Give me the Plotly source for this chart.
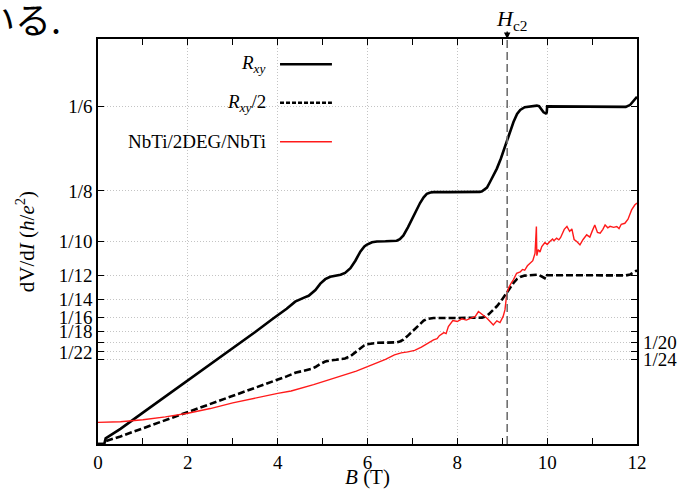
import plotly.graph_objects as go

# ---------------- data ----------------
rxy_B = [0.0, 0.14, 0.17, 0.5, 1.0, 1.5, 2.0, 2.5, 3.0, 3.5, 3.9, 4.0, 4.2, 4.39, 4.5, 4.6,
         4.69, 4.75, 4.84, 4.95, 5.06, 5.17, 5.3, 5.4, 5.5, 5.62, 5.73, 5.84, 5.93, 5.99,
         6.1, 6.21, 6.4, 6.55, 6.65, 6.72, 6.8, 6.9, 7.02, 7.1, 7.17, 7.25, 7.32, 7.4,
         7.47, 7.8, 8.2, 8.5, 8.55, 8.61, 8.66, 8.73, 8.8, 8.88, 8.97, 9.06, 9.15, 9.25,
         9.33, 9.4, 9.5, 9.6, 9.7, 9.77, 9.82, 9.87, 9.92, 9.97, 9.99, 10.0, 10.5, 11.0,
         11.5, 11.75, 11.85, 11.95, 12.0]
rxy_V = [0.0, 0.0, 0.0028, 0.0075, 0.0155, 0.0234, 0.0315, 0.0395, 0.0474, 0.0553, 0.0620, 0.0635,
         0.0668, 0.0703, 0.0716, 0.0724, 0.0732, 0.0742, 0.0760, 0.0792, 0.0814, 0.0826, 0.0832,
         0.0836, 0.0845, 0.0868, 0.0905, 0.0950, 0.0975, 0.0985, 0.0996, 0.1000, 0.1001, 0.1002,
         0.1004, 0.1012, 0.1030, 0.1070, 0.1124, 0.1160, 0.1190, 0.1218, 0.1235, 0.1242,
         0.1244, 0.1244, 0.1244, 0.1245, 0.1248, 0.1256, 0.1266, 0.1295, 0.1325, 0.1360, 0.1410,
         0.1470, 0.1530, 0.1590, 0.1630, 0.1650, 0.1663, 0.1667, 0.1670, 0.1671, 0.1668, 0.1655,
         0.1638, 0.1632, 0.1636, 0.1667, 0.1667, 0.1667, 0.1668, 0.1665, 0.1675, 0.1700, 0.1715]
# R_xy/2 is, by definition, the R_xy trace halved
rxy_half_V = [v / 2 for v in rxy_V]

red_B = [0.0, 0.5, 1.0, 1.5, 2.0, 2.5, 3.0, 3.5, 4.0, 4.3, 4.55, 4.8, 5.1, 5.3, 5.5, 5.75, 6.0,
         6.2, 6.4, 6.6, 6.75, 6.9, 7.05, 7.2, 7.35, 7.47, 7.55, 7.6, 7.7, 7.75, 7.8, 7.9, 8.0,
         8.1, 8.2, 8.3, 8.4, 8.47, 8.55, 8.66, 8.75, 8.8, 8.88, 8.95, 9.02, 9.06, 9.1, 9.14,
         9.2, 9.25, 9.32, 9.4, 9.45, 9.5, 9.56, 9.62, 9.68, 9.73, 9.76, 9.77, 9.8, 9.84, 9.88,
         9.95, 10.0, 10.06, 10.12, 10.15, 10.21, 10.26, 10.3, 10.38, 10.44, 10.5, 10.55, 10.6,
         10.66, 10.73, 10.8, 10.88, 10.95, 11.0, 11.06, 11.12, 11.18, 11.24, 11.29, 11.35,
         11.4, 11.48, 11.55, 11.6, 11.65, 11.73, 11.8, 11.88, 11.95, 12.0]
red_V = [0.0107, 0.0110, 0.0120, 0.0134, 0.0152, 0.0175, 0.0203, 0.0228, 0.0250, 0.0262, 0.0276,
         0.0293, 0.0314, 0.0328, 0.0341, 0.0360, 0.0382, 0.0400, 0.0418, 0.0440, 0.0450, 0.0455,
         0.0462, 0.0478, 0.0500, 0.0514, 0.0520, 0.0535, 0.0550, 0.0545, 0.0580, 0.0610, 0.0605,
         0.0618, 0.0612, 0.0622, 0.0630, 0.0654, 0.0640, 0.0621, 0.0600, 0.0588, 0.0608, 0.0600,
         0.0630, 0.0662, 0.0740, 0.0770, 0.0795, 0.0812, 0.0843, 0.0850, 0.0862, 0.0858, 0.0880,
         0.0893, 0.0905, 0.0942, 0.1074, 0.0930, 0.0960, 0.0948, 0.0975, 0.0995, 0.0985, 0.1000,
         0.1012, 0.1004, 0.1016, 0.1008, 0.1020, 0.1060, 0.1074, 0.1050, 0.1062, 0.1010, 0.1000,
         0.0983, 0.1010, 0.1033, 0.1022, 0.1050, 0.1082, 0.1045, 0.1041, 0.1060, 0.1082, 0.1068,
         0.1075, 0.1070, 0.1074, 0.1064, 0.1085, 0.1090, 0.1110, 0.1156, 0.1180, 0.1190]

hc2 = 9.11
y_denoms = [6, 8, 10, 12, 14, 16, 18, 20, 22, 24]
left_labels = ["1/6", "1/8", "1/10", "1/12", "1/14", "1/16", "1/18", "", "1/22", ""]
right_labels = ["", "", "", "", "", "", "", "1/20", "", "1/24"]
x_ticks = [0, 2, 4, 6, 8, 10, 12]
legend_names = ["<i>R</i><sub><i>xy</i></sub>", "<i>R</i><sub><i>xy</i></sub>/2", "NbTi/2DEG/NbTi"]

yvals = [1 / d for d in y_denoms]
FONT = "Liberation Serif"
GRID = "#c4c4c4"

fig = go.Figure()
fig.add_trace(go.Scatter(x=rxy_B, y=rxy_V, mode="lines", line=dict(color="black", width=2.6),
                         name="Rxy", showlegend=False))
fig.add_trace(go.Scatter(x=rxy_B, y=rxy_half_V, mode="lines",
                         line=dict(color="black", width=2.6, dash="7px,3px"),
                         name="Rxy/2", showlegend=False))
fig.add_trace(go.Scatter(x=red_B, y=red_V, mode="lines", line=dict(color="#ff1a1a", width=1.4),
                         name="NbTi/2DEG/NbTi", showlegend=False))
# invisible trace to hold the right-hand axis
fig.add_trace(go.Scatter(x=[0], y=[0], yaxis="y2", mode="markers", marker=dict(opacity=0),
                         hoverinfo="skip", showlegend=False))

fig.update_layout(
    template="none",
    width=686, height=489,
    margin=dict(l=98, r=49, t=39, b=45, autoexpand=False),
    paper_bgcolor="white", plot_bgcolor="white",
    font=dict(family=FONT, size=19, color="black"),
    xaxis=dict(range=[0, 12], tickvals=x_ticks, ticks="inside", ticklen=6, tickcolor="black",
               tickwidth=1, showline=True, linecolor="black", linewidth=1.5, mirror="allticks",
               showgrid=True, gridcolor=GRID, griddash="1px,2px", gridwidth=1, zeroline=False,
               automargin=False,
               minor=dict(dtick=1, ticks="inside", ticklen=6, tickcolor="black", showgrid=False),
               title=dict(text="<i>B</i> (T)", font=dict(size=21), standoff=6)),
    yaxis=dict(range=[0, 0.2], tickvals=yvals, ticktext=left_labels, ticks="inside", ticklen=6,
               tickcolor="black", showline=True, linecolor="black", linewidth=1.5,
               mirror="allticks", showgrid=True, gridcolor=GRID, griddash="1px,2px",
               gridwidth=1, zeroline=False, automargin=False,
               title=dict(text="dV/d<i>I</i> (<i>h</i>/<i>e</i><sup>2</sup>)", font=dict(size=21),
                          standoff=18)),
    yaxis2=dict(range=[0, 0.2], overlaying="y", side="right", tickvals=yvals,
                ticktext=right_labels, ticks="", showline=False, showgrid=False, zeroline=False,
                automargin=False, ticklabelstandoff=5),
    showlegend=False,
)

# Hc2 marker line
fig.add_shape(type="line", xref="x", yref="y", x0=hc2, x1=hc2, y0=0, y1=0.2,
              line=dict(color="#707070", width=1.6, dash="8px,4px"), layer="above")
fig.add_annotation(xref="x", yref="paper", x=hc2, y=1.0, ax=0, ay=-9, text="",
                   showarrow=True, arrowhead=2, arrowsize=1, arrowwidth=1.3, arrowcolor="black")
fig.add_annotation(xref="x", yref="paper", x=hc2, y=1.0, yshift=19, xshift=4,
                   text="<i>H</i><sub>c2</sub>", showarrow=False, font=dict(size=22),
                   xanchor="center", yanchor="middle")

# legend (gnuplot style: text right-aligned, sample to the right)
fig.add_shape(type="rect", xref="paper", yref="paper", x0=0.003, x1=0.455, y0=0.70, y1=0.995,
              fillcolor="white", line=dict(width=0), layer="between")
leg_y = [0.9375, 0.8427, 0.7464]
leg_styles = [dict(color="black", width=2.6), dict(color="black", width=2.6, dash="4px,2px"),
              dict(color="#ff1a1a", width=1.4)]
for name, yy, st in zip(legend_names, leg_y, leg_styles):
    fig.add_annotation(xref="paper", yref="paper", x=0.3154, y=yy, text=name, showarrow=False,
                       xanchor="right", yanchor="middle", font=dict(size=19))
    fig.add_shape(type="line", xref="paper", yref="paper", x0=0.3377, x1=0.434, y0=yy, y1=yy,
                  line=st, layer="above")

# cropped page text at top-left
fig.add_annotation(xref="paper", yref="paper", x=-0.065, y=1.053, text="いる.",
                   showarrow=False, xanchor="right", yanchor="middle",
                   font=dict(family="Noto Sans CJK JP", size=36))

fig.write_html("out.html", config={"displayModeBar": False},
               post_script="document.body.style.margin='0px';")
